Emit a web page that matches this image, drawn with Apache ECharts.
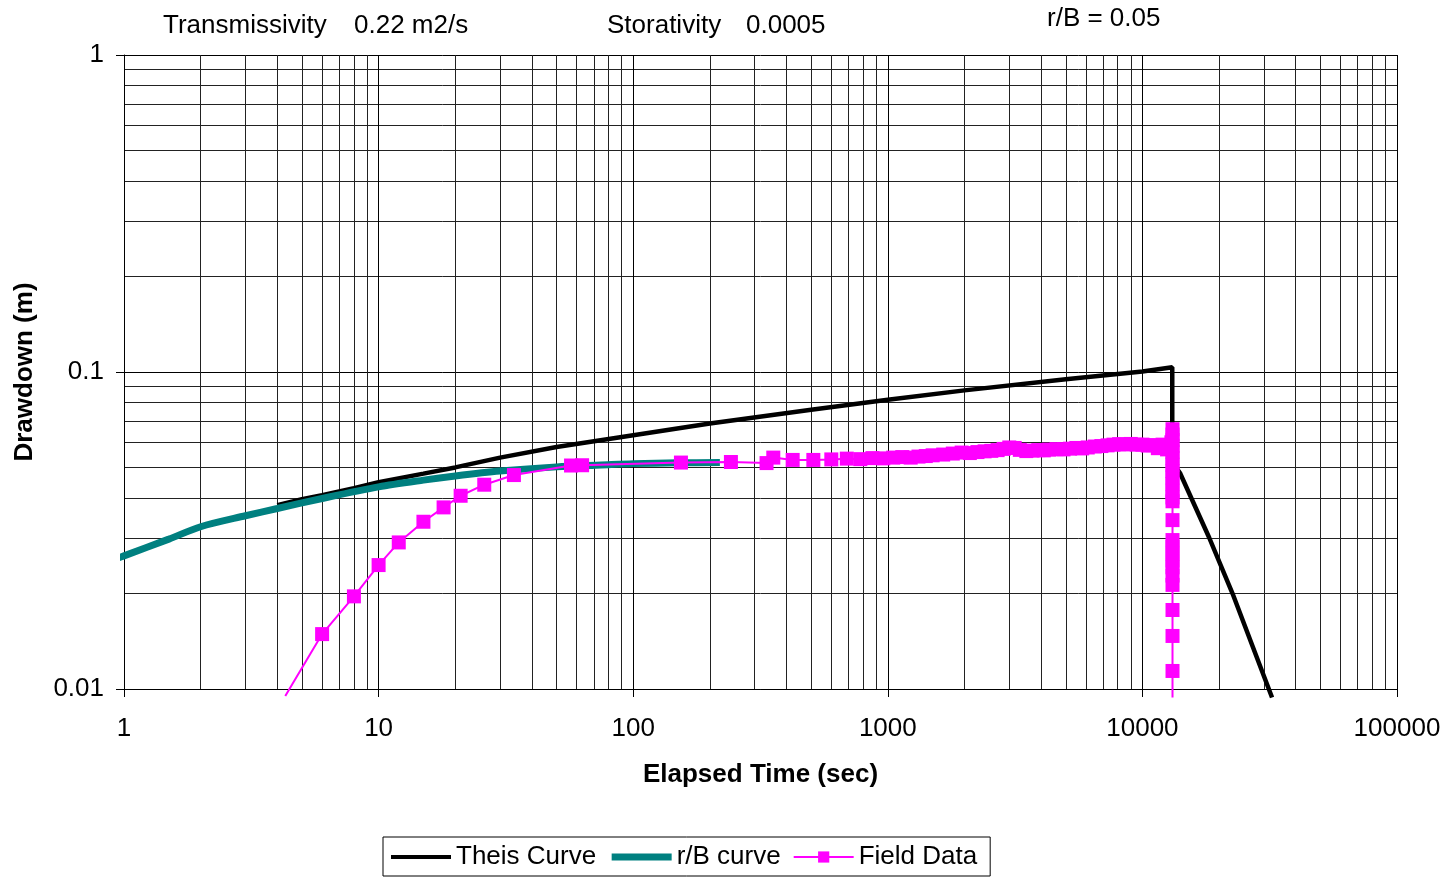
<!DOCTYPE html>
<html>
<head>
<meta charset="utf-8">
<script src="https://cdn.jsdelivr.net/npm/echarts@6/dist/echarts.min.js"></script>
<style>
  html, body { margin: 0; padding: 0; background: #fff; }
  #chart { width: 1450px; height: 878px; }
</style>
</head>
<body>
<div id="chart"></div>
<script>
// Theis curve (time s, drawdown m)
const theis = [
    [4, 0.038], [5, 0.0397], [6, 0.0409], [8, 0.0430], [10, 0.0449], [15, 0.0478],
    [20, 0.0500], [30, 0.0537], [50, 0.0580], [100, 0.0632], [200, 0.0688], [500, 0.0760],
    [1000, 0.0817], [2000, 0.0875], [5000, 0.0948], [10000, 0.1003], [13100, 0.1035],
    [13100, 0.052], [14050, 0.048], [18300, 0.030], [22600, 0.020], [32300, 0.0094]
];

// leaky r/B = 0.05 type curve
const rbCurve = [
    [0.95, 0.0259], [1, 0.0263], [1.5, 0.0297], [2, 0.0325], [3, 0.0352], [4, 0.0371],
    [6, 0.0399], [10, 0.0434], [15, 0.0456], [20, 0.0470], [30, 0.0487], [50, 0.0502],
    [75, 0.0509], [100, 0.0514], [150, 0.0517], [219, 0.0518]
];

// measured drawdown
const fieldData = [
    [4.3, 0.0095], [6, 0.0149], [8, 0.0196], [10, 0.0246], [12, 0.029], [15, 0.0337],
    [18, 0.0374], [21, 0.0407], [26, 0.0441], [34, 0.0473], [57, 0.0507], [63, 0.0508],
    [154, 0.0518], [242, 0.052], [334, 0.0516], [355, 0.0537], [423, 0.0528], [510, 0.0528],
    [600, 0.0530], [690, 0.0533], [780, 0.0531], [870, 0.0535], [960, 0.0534], [1050, 0.0537],
    [1140, 0.0539], [1230, 0.0537], [1320, 0.0541], [1410, 0.0543], [1500, 0.0546], [1650, 0.0549],
    [1800, 0.0553], [1950, 0.0557], [2100, 0.0555], [2250, 0.0559], [2400, 0.0562], [2550, 0.0564],
    [2700, 0.0567], [2850, 0.0572], [3000, 0.0578], [3150, 0.0576], [3300, 0.0568], [3500, 0.0563],
    [3700, 0.0565], [3900, 0.0567], [4100, 0.0566], [4300, 0.0569], [4600, 0.0571], [4900, 0.0570],
    [5200, 0.0573], [5500, 0.0576], [5800, 0.0574], [6100, 0.0578], [6500, 0.0582], [6900, 0.0584],
    [7300, 0.0587], [7700, 0.0590], [8100, 0.0592], [8500, 0.0591], [9000, 0.0593], [9500, 0.0590],
    [10000, 0.0590], [10500, 0.0586], [11000, 0.0588], [11500, 0.0575], [12000, 0.0590], [12500, 0.0570],
    [13000, 0.0600],
    [13130, 0.066], [13130, 0.0635], [13130, 0.061], [13130, 0.0585], [13130, 0.056], [13130, 0.0535],
    [13130, 0.051], [13130, 0.0487], [13130, 0.0465], [13130, 0.0443], [13130, 0.0422], [13130, 0.0402],
    [13130, 0.0391], [13130, 0.0341], [13130, 0.0295], [13130, 0.0281], [13130, 0.0267], [13130, 0.0254],
    [13130, 0.0242], [13130, 0.0228], [13130, 0.0213], [13130, 0.01775], [13130, 0.0147], [13130, 0.0114],
    [13130, 0.0094]
];

const FONT = '"Liberation Sans", Arial, sans-serif';
const Y_MIN = 0.01;

let chart = echarts.init(document.getElementById('chart'));

function logAxis(min, max) {
    return {
        type: 'log',
        logBase: 10,
        min: min,
        max: max,
        axisLine: { show: true, onZero: false, lineStyle: { color: '#000', width: 1 } },
        axisTick: { show: true, length: 8, lineStyle: { color: '#000' } },
        axisLabel: {
            color: '#000', fontSize: 26, fontFamily: FONT,
            formatter: (v) => String(+v.toPrecision(6)),
        },
        splitLine: { show: true, lineStyle: { color: '#000', width: 1 } },
        minorTick: { show: false, splitNumber: 9 },
        minorSplitLine: { show: true, lineStyle: { color: '#222', width: 1 } },
        nameLocation: 'middle',
        nameTextStyle: { color: '#000', fontSize: 26, fontWeight: 'bold', fontFamily: FONT },
    };
}

let xAxis = logAxis(1, 100000);
xAxis.name = 'Elapsed Time (sec)';
xAxis.nameGap = 73;
xAxis.axisLabel.margin = 27;

let yAxis = logAxis(Y_MIN, 1);
yAxis.name = 'Drawdown (m)';
yAxis.nameGap = 86;
yAxis.axisLabel.margin = 20;

function label(text, x, y) {
    return {
        type: 'text', x: x, y: y,
        style: { text: text, fill: '#000', font: '26px ' + FONT, verticalAlign: 'middle' },
    };
}

// points that fall below the axis keep the line but lose the marker
let fieldPoints = fieldData.map((p) => p[1] < Y_MIN ? { value: p, symbol: 'none' } : p);

let option = {
    animation: false,
    backgroundColor: '#fff',
    grid: { left: 124, right: 53, top: 55, bottom: 189 },
    xAxis: xAxis,
    yAxis: yAxis,
    graphic: [
        label('Transmissivity', 163, 26),
        label('0.22 m2/s', 354, 26),
        label('Storativity', 607, 26),
        label('0.0005', 746, 26),
        label('r/B = 0.05', 1047, 19),
    ],
    legend: {
        left: 383,
        top: 837,
        padding: [5, 13, 4, 6],
        itemGap: 12,
        itemWidth: 60,
        itemHeight: 14,
        borderColor: '#000',
        borderWidth: 1,
        textStyle: { color: '#000', fontSize: 26, lineHeight: 30, fontFamily: FONT },
        data: [
            { name: 'Theis Curve', lineStyle: { width: 4 }, itemStyle: { opacity: 0 } },
            { name: 'r/B curve', lineStyle: { width: 7 }, itemStyle: { opacity: 0 } },
            { name: 'Field Data', lineStyle: { width: 2 } },
        ],
    },
    series: [
        {
            name: 'Theis Curve',
            type: 'line',
            data: theis,
            symbol: 'none',
            clip: false,
            color: '#000',
            lineStyle: { color: '#000', width: 4.5 },
        },
        {
            name: 'r/B curve',
            type: 'line',
            data: rbCurve,
            symbol: 'none',
            smooth: 0.3,
            clip: false,
            color: '#008080',
            lineStyle: { color: '#008080', width: 7 },
        },
        {
            name: 'Field Data',
            type: 'line',
            data: fieldPoints,
            symbol: 'rect',
            symbolSize: 14,
            clip: false,
            color: '#ff00ff',
            itemStyle: { color: '#ff00ff' },
            lineStyle: { color: '#ff00ff', width: 2 },
        },
    ],
};

chart.setOption(option);
</script>
</body>
</html>
